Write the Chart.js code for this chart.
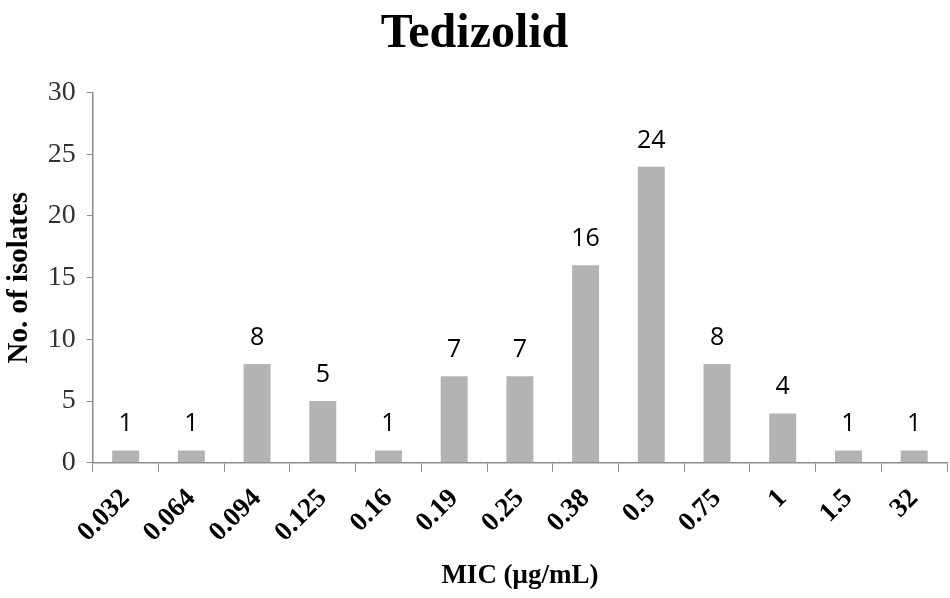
<!DOCTYPE html>
<html>
<head>
<meta charset="utf-8">
<script src="https://cdn.jsdelivr.net/npm/chart.js@4"></script>
<style>
  body { margin: 0; background: #fff; }
  #wrap { width: 950px; height: 598px; }
</style>
</head>
<body>
<div id="wrap"><canvas id="myChart"></canvas></div>
<script>
const mic_labels = ['0.032', '0.064', '0.094', '0.125', '0.16', '0.19', '0.25', '0.38', '0.5', '0.75', '1', '1.5', '32'];
const isolate_counts = [1, 1, 8, 5, 1, 7, 7, 16, 24, 8, 4, 1, 1];
const y_ticks = [0, 5, 10, 15, 20, 25, 30];

const serif = '"Liberation Serif", "Times New Roman", serif';

// draw the count above every bar
const barValues = {
    id: 'barValues',
    afterDatasetsDraw(chart) {
        const ctx = chart.ctx;
        const meta = chart.getDatasetMeta(0);
        ctx.save();
        ctx.font = '25px "Open Sans", "Liberation Sans", sans-serif';
        ctx.fillStyle = '#000';
        ctx.textAlign = 'center';
        ctx.textBaseline = 'alphabetic';
        meta.data.forEach((bar, i) => {
            ctx.fillText(String(isolate_counts[i]), bar.x, bar.y - 19);
        });
        ctx.restore();
    }
};

const ctx = document.getElementById('myChart').getContext('2d');
new Chart(ctx, {
    type: 'bar',
    data: {
        labels: mic_labels,
        datasets: [{
            data: isolate_counts,
            backgroundColor: '#b3b3b3',
            categoryPercentage: 1.0,
            barPercentage: 0.41
        }]
    },
    options: {
        responsive: true,
        maintainAspectRatio: false,
        animation: false,
        layout: { padding: { top: 0, right: 3, left: 2, bottom: 6 } },
        plugins: {
            legend: { display: false },
            tooltip: { enabled: false },
            title: {
                display: true,
                text: 'Tedizolid',
                color: '#000',
                font: { family: serif, size: 48, weight: 'bold' },
                padding: { top: 6, bottom: 29 }
            }
        },
        scales: {
            x: {
                border: { color: '#8c8c8c', width: 1.5 },
                grid: { drawOnChartArea: false, color: '#8c8c8c', tickLength: 9, offset: true },
                ticks: {
                    color: '#000',
                    maxRotation: 45,
                    minRotation: 45,
                    padding: 11,
                    font: { family: serif, size: 27, weight: 'bold' }
                },
                title: {
                    display: true,
                    text: 'MIC (μg/mL)',
                    color: '#000',
                    font: { family: serif, size: 27, weight: 'bold' },
                    padding: { top: 0, bottom: 0 }
                }
            },
            y: {
                min: 0,
                max: 30,
                border: { color: '#8c8c8c', width: 1.5 },
                grid: { drawOnChartArea: false, color: '#8c8c8c', tickLength: 6 },
                afterBuildTicks(axis) {
                    axis.ticks = y_ticks.map(v => ({ value: v }));
                },
                ticks: {
                    color: '#333',
                    padding: 11,
                    font: { family: serif, size: 28 }
                },
                title: {
                    display: true,
                    text: 'No. of isolates',
                    color: '#000',
                    font: { family: serif, size: 29, weight: 'bold' },
                    padding: { top: 0, bottom: 0 }
                }
            }
        }
    },
    plugins: [barValues]
});
</script>
</body>
</html>
